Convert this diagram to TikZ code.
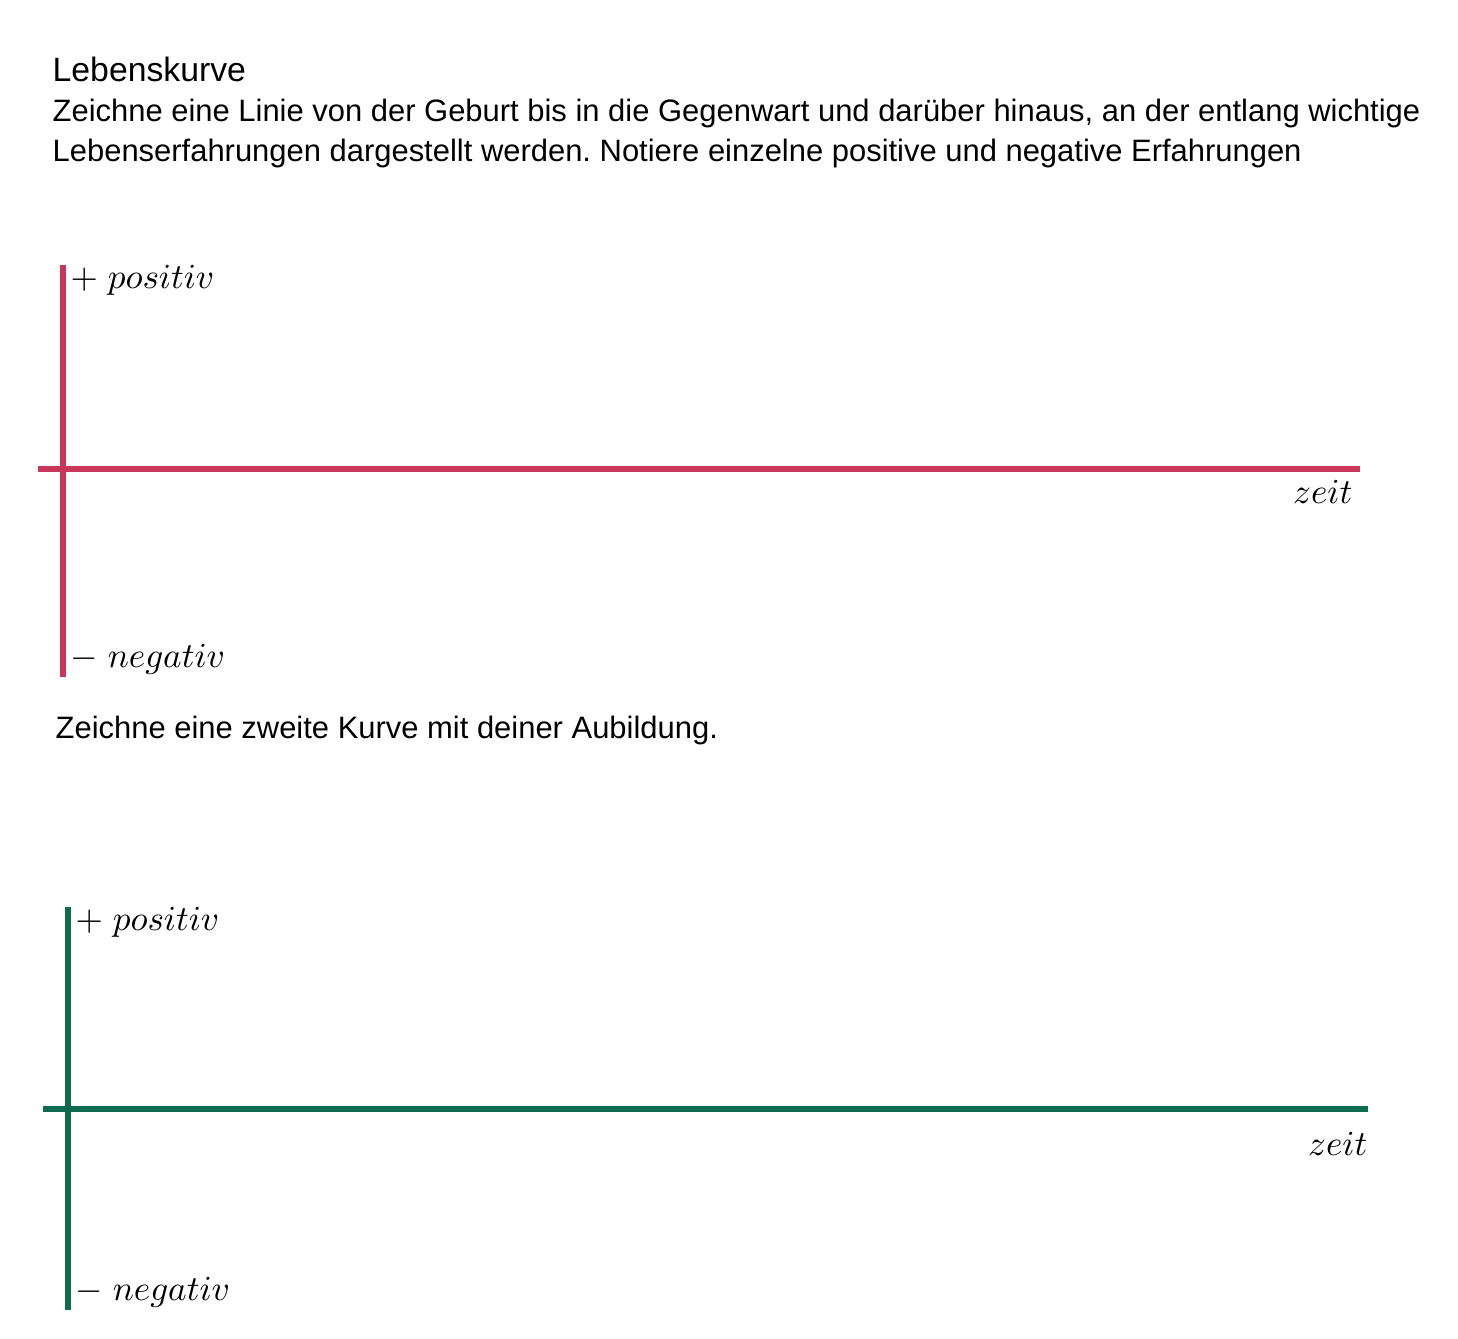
\documentclass[tikz,border=0pt]{standalone}
\usepackage{fontspec}
\setmainfont{Liberation Sans}
\usetikzlibrary{positioning}
\frenchspacing
\definecolor{cred}{HTML}{C8375A}
\definecolor{cgreen}{HTML}{0E6B4E}
\tikzset{
  every picture/.style={x=0.01cm, y=-0.01cm},
  txt/.style={font=\fontsize{8.8}{11}\selectfont, inner sep=0pt, anchor=base west, text=black},
  head/.style={txt, font=\fontsize{9.6}{12}\selectfont},
  axis/.style={draw=#1, line width=1.45pt},
  lbl/.style={font=\fontsize{10.2}{12}\selectfont, inner sep=0pt, text=black},
}

\begin{document}
\begin{tikzpicture}
  \useasboundingbox[fill=white] (0,0) rectangle (1458,1338);
  % task text
  \node[head] (title) at (52,81) {Lebenskurve};
  \node[txt] (task1) at (52,121) {Zeichne eine Linie von der Geburt bis in die Gegenwart und darüber hinaus, an der entlang wichtige};
  \node[txt] (task2) at (52,161) {Lebenserfahrungen dargestellt werden. Notiere einzelne positive und negative Erfahrungen};
  % first curve (red)
  \coordinate (r top) at (63,265);
  \coordinate (r bot) at (63,677);
  \coordinate (r left) at (38,469);
  \coordinate (r right) at (1360,469);
  \draw[axis=cred] (r top) -- (r bot);
  \draw[axis=cred] (r left) -- (r right);
  \node[lbl, anchor=base west] (r pos) at (70,288) {$+\;positiv$};
  \node[lbl, anchor=base east] (r zeit) at (1353,503) {$zeit$};
  \node[lbl, anchor=base west] (r neg) at (70,667) {$-\;negativ$};
  % second task
  \node[txt] (task3) at (55,738) {Zeichne eine zweite Kurve mit deiner Aubildung.};
  % second curve (green)
  \coordinate (g top) at (68,907);
  \coordinate (g bot) at (68,1310);
  \coordinate (g left) at (43,1109);
  \coordinate (g right) at (1368,1109);
  \draw[axis=cgreen] (g top) -- (g bot);
  \draw[axis=cgreen] (g left) -- (g right);
  \node[lbl, anchor=base west] (g pos) at (75,930) {$+\;positiv$};
  \node[lbl, anchor=base east] (g zeit) at (1368,1155) {$zeit$};
  \node[lbl, anchor=base west] (g neg) at (75,1300) {$-\;negativ$};
\end{tikzpicture}
\end{document}
